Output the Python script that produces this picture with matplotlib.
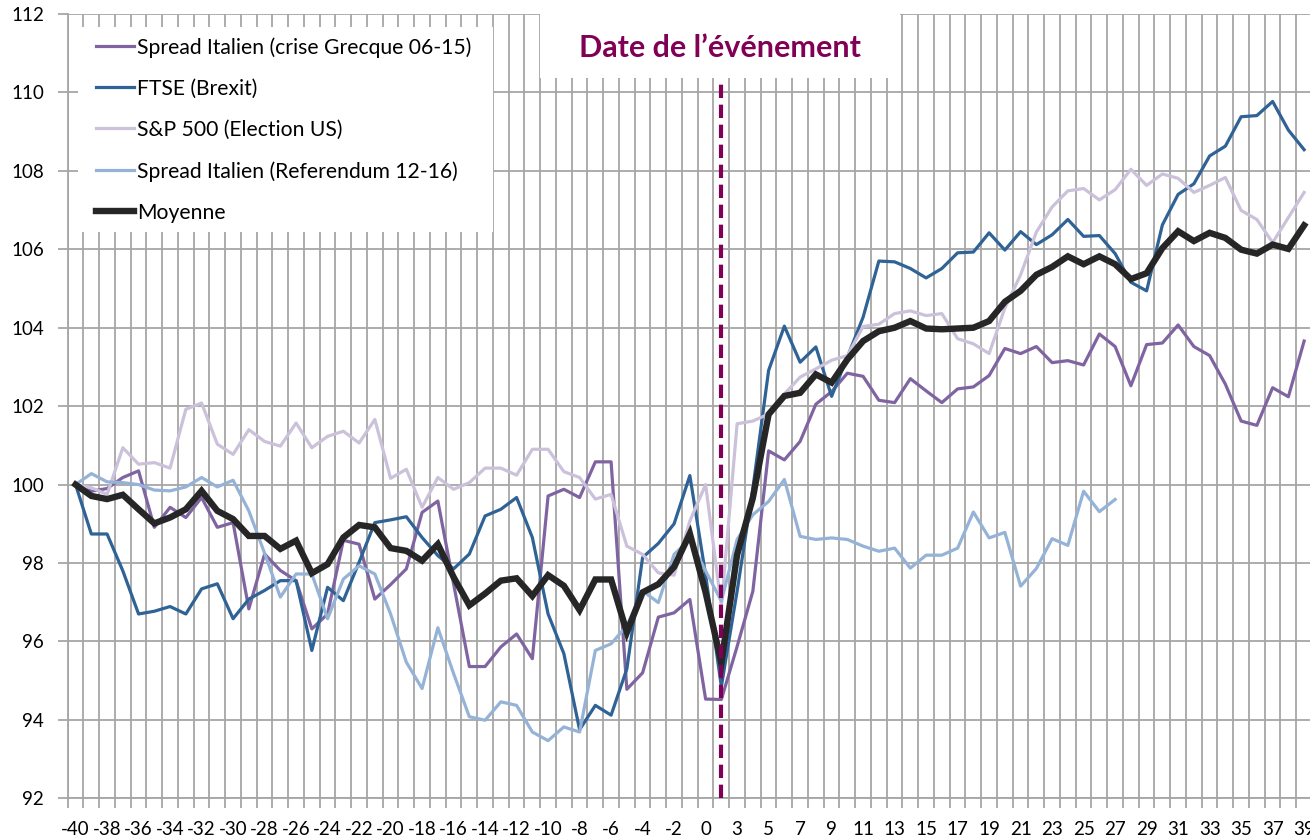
import matplotlib
matplotlib.use("Agg")
from matplotlib import pyplot as plt
from matplotlib.patches import Rectangle
import numpy as np

plt.rcParams['font.family'] = ['Lato', 'DejaVu Sans']

# jours autour de l'evenement (la categorie apres 0 n'est pas etiquetee)
jours = list(range(-40, 1)) + [1] + list(range(3, 40))

spread_grec = [100.0, 99.83, 99.9, 100.18, 100.35, 98.91, 99.42, 99.16, 99.67, 98.91,
               99.03, 96.83, 98.23, 97.81, 97.55, 96.32, 96.7, 98.58, 98.48, 97.08,
               97.45, 97.85, 99.29, 99.58, 97.47, 95.36, 95.36, 95.86, 96.19, 95.56,
               99.71, 99.88, 99.67, 100.58, 100.58, 94.78, 95.2, 96.62, 96.73, 97.07,
               94.53, 94.52, 95.87, 97.28, 100.86, 100.63, 101.1, 102.05, 102.37, 102.84,
               102.76, 102.15, 102.09, 102.7, 102.39, 102.09, 102.44, 102.49, 102.78, 103.47,
               103.34, 103.52, 103.11, 103.16, 103.05, 103.84, 103.52, 102.52, 103.57, 103.61,
               104.07, 103.52, 103.29, 102.56, 101.62, 101.51, 102.47, 102.24, 103.66]

ftse = [100.0, 98.74, 98.74, 97.8, 96.7, 96.77, 96.89, 96.7, 97.34, 97.47,
        96.58, 97.08, 97.3, 97.55, 97.55, 95.77, 97.38, 97.04, 98.02, 99.03,
        99.1, 99.18, 98.65, 98.19, 97.85, 98.23, 99.2, 99.37, 99.67, 98.65,
        96.7, 95.69, 93.75, 94.37, 94.12, 95.3, 98.14, 98.5, 99.0, 100.23,
        97.7, 94.85, 97.28, 99.9, 102.91, 104.04, 103.12, 103.51, 102.25, 103.25,
        104.27, 105.7, 105.68, 105.51, 105.27, 105.51, 105.91, 105.93, 106.42, 105.98,
        106.45, 106.12, 106.37, 106.76, 106.33, 106.35, 105.89, 105.16, 104.94, 106.62,
        107.4, 107.67, 108.38, 108.63, 109.38, 109.41, 109.77, 109.04, 108.54]

sp500 = [100.0, 99.92, 99.75, 100.94, 100.52, 100.56, 100.42, 101.92, 102.08, 101.03,
         100.77, 101.4, 101.1, 100.98, 101.57, 100.94, 101.23, 101.36, 101.06, 101.66,
         100.16, 100.39, 99.42, 100.18, 99.88, 100.05, 100.42, 100.42, 100.24, 100.9,
         100.9, 100.33, 100.18, 99.63, 99.75, 98.43, 98.22, 97.75, 97.69, 99.07,
         100.0, 96.9, 101.55, 101.62, 101.8, 102.31, 102.74, 102.95, 103.17, 103.29,
         104.03, 104.09, 104.36, 104.43, 104.31, 104.36, 103.72, 103.59, 103.34, 104.5,
         105.35, 106.44, 107.08, 107.49, 107.55, 107.26, 107.52, 108.04, 107.63, 107.92,
         107.81, 107.45, 107.63, 107.83, 106.99, 106.76, 106.17, 106.81, 107.45]

spread_ref = [100.0, 100.28, 100.07, 100.05, 100.0, 99.86, 99.84, 99.94, 100.18, 99.94,
              100.11, 99.33, 98.25, 97.13, 97.72, 97.72, 96.58, 97.59, 97.93, 97.72,
              96.7, 95.47, 94.8, 96.35, 95.18, 94.08, 93.99, 94.46, 94.37, 93.69,
              93.47, 93.82, 93.69, 95.77, 95.94, 96.4, 97.29, 96.99, 98.22, 98.6,
              97.8, 97.03, 98.6, 99.23, 99.57, 100.13, 98.68, 98.6, 98.64, 98.6,
              98.43, 98.3, 98.38, 97.87, 98.2, 98.2, 98.38, 99.3, 98.64, 98.78,
              97.41, 97.86, 98.62, 98.45, 99.83, 99.31, 99.62]

moyenne = [100.0, 99.71, 99.63, 99.74, 99.37, 99.01, 99.16, 99.37, 99.84, 99.33,
           99.12, 98.69, 98.69, 98.36, 98.57, 97.74, 97.97, 98.65, 98.97, 98.91,
           98.38, 98.31, 98.06, 98.48, 97.64, 96.92, 97.22, 97.55, 97.61, 97.16,
           97.69, 97.42, 96.8, 97.58, 97.58, 96.23, 97.25, 97.46, 97.9, 98.75,
           97.25, 95.45, 98.21, 99.66, 101.79, 102.26, 102.34, 102.81, 102.6, 103.19,
           103.66, 103.91, 104.0, 104.17, 103.98, 103.96, 103.98, 104.0, 104.17, 104.66,
           104.94, 105.35, 105.55, 105.82, 105.62, 105.82, 105.62, 105.24, 105.39, 106.03,
           106.46, 106.21, 106.42, 106.29, 105.99, 105.89, 106.12, 106.01, 106.61]

jour_evenement = 1

W, H = 1310, 840
fig = plt.figure(figsize=(W / 100, H / 100), dpi=100)
ax = fig.add_axes([67.7 / W, 41.7 / H, (1312 - 67.7) / W, (798.3 - 14) / H])

x = np.arange(len(jours))
grid_col = '#a6a6a6'

ax.plot(x, spread_grec, color='#8064a2', lw=2.3, zorder=2, label='Spread Italien (crise Grecque 06-15)')
ax.plot(x, ftse, color='#2f6295', lw=2.3, zorder=2, label='FTSE (Brexit)')
ax.plot(x, sp500, color='#ccc1da', lw=2.3, zorder=2, label='S&P 500 (Election US)')
ax.plot(x[:len(spread_ref)], spread_ref, color='#95b3d7', lw=2.3, zorder=2,
        label='Spread Italien (Referendum 12-16)')
ax.plot(x, moyenne, color='#262626', lw=4.6, zorder=2.5, solid_joinstyle='miter',
        label='Moyenne')

xe = jours.index(jour_evenement)
ax.axvline(xe, color='#800055', lw=3, ls=(0, (3.2, 1.6)), zorder=3)

ax.set_xlim(-0.5, len(jours) - 0.5)
ax.set_ylim(92, 112)
ax.set_yticks(np.arange(92, 113, 2))
ax.set_xticks(x[::2])
ax.set_xticklabels([str(j) for j in jours[::2]])
ax.set_xticks(np.arange(-0.5, len(jours), 1), minor=True)

ax.set_axisbelow(True)
ax.grid(True, axis='y', which='major', color=grid_col, lw=1.3)
ax.grid(True, axis='x', which='minor', color=grid_col, lw=1.3)
ax.tick_params(axis='x', which='major', length=0, pad=16, labelsize=13.5, colors='black')
ax.tick_params(axis='x', which='minor', length=7, width=1.3, color=grid_col, direction='out')
ax.tick_params(axis='y', length=7, width=1.3, color=grid_col, pad=10, labelsize=13.5)
for s in ['top', 'right']:
    ax.spines[s].set_visible(False)
for s in ['left', 'bottom']:
    ax.spines[s].set_color(grid_col)
    ax.spines[s].set_linewidth(1.3)

# fonds blancs de la legende et du titre
ax.add_patch(Rectangle((78 / W, 1 - 232 / H), (493 - 78) / W, (232 - 27) / H,
                       transform=fig.transFigure, facecolor='white', edgecolor='none',
                       zorder=4, clip_on=False))
ax.add_patch(Rectangle((540 / W, 1 - 78 / H), (900 - 540) / W, (78 - 14) / H,
                       transform=fig.transFigure, facecolor='white', edgecolor='none',
                       zorder=4, clip_on=False))

fig.text(720 / W, 1 - 48 / H, "Date de l\u2019\u00e9v\u00e9nement", ha='center', va='center',
         fontsize=22, fontweight='bold', color='#800055', zorder=6)

leg = ax.legend(loc='upper left', bbox_to_anchor=(96 / W, 1 - 37 / H),
                bbox_transform=fig.transFigure, frameon=False, fontsize=15.2,
                handlelength=1.8, handletextpad=0.15, labelspacing=1.0,
                borderpad=0, borderaxespad=0)
leg.set_zorder(6)

fig.savefig('out.png', dpi=100, facecolor='white')
